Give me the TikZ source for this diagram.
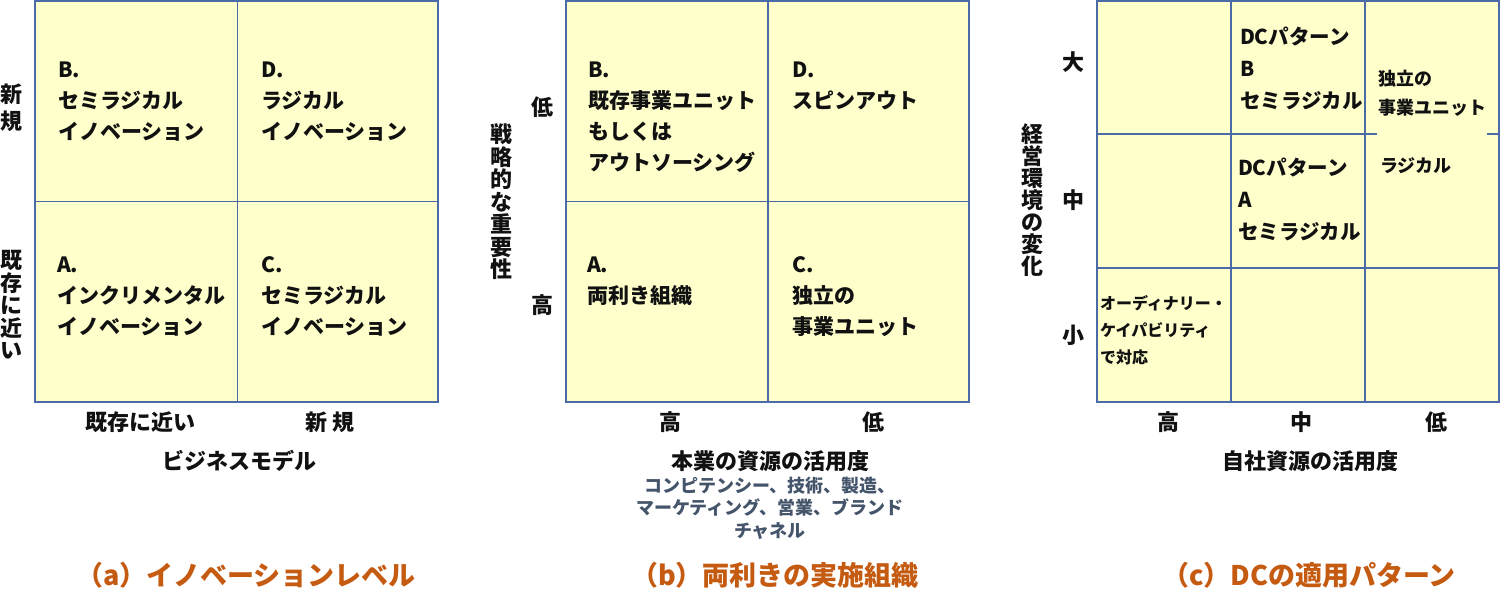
\documentclass[tikz,border=0pt]{standalone}
\usepackage{fontspec}
\setmainfont{Noto Sans CJK JP}
\definecolor{cellfill}{HTML}{FFFFCC}
\definecolor{gridline}{HTML}{4A6BA8}
\definecolor{subgray}{HTML}{44546A}
\definecolor{capor}{HTML}{C55A11}
\definecolor{txt}{HTML}{111111}
\begin{document}
\begin{tikzpicture}[x=1pt,y=-1pt,
  every node/.style={inner sep=0pt, outer sep=0pt, text=txt},
  grid/.style={draw=gridline, line width=1.6pt},
  celltxt/.style={anchor=base west, align=left, font=\fontsize{21}{31}\selectfont\bfseries},
  celltxtc/.style={anchor=base west, align=left, font=\fontsize{20.5}{32}\selectfont\bfseries},
  smalltxt/.style={anchor=base west, align=left, font=\fontsize{18}{29}\selectfont\bfseries},
  tinytxt/.style={anchor=base west, align=left, font=\fontsize{16}{27}\selectfont\bfseries},
  tick/.style={anchor=center, align=center, font=\fontsize{22}{26}\selectfont\bfseries},
  vlabel/.style={anchor=center, align=center, font=\fontsize{22}{22.5}\selectfont\bfseries},
  axtitle/.style={anchor=center, font=\fontsize{22}{26}\selectfont\bfseries},
  subtxt/.style={anchor=base, align=center, text=subgray, font=\fontsize{18}{22.5}\selectfont\bfseries},
  caption/.style={anchor=center, text=capor, font=\fontsize{27}{32}\selectfont\bfseries}]
\useasboundingbox (0,0) rectangle (1500,590);

% ---------- (a) ----------
\fill[cellfill] (35,1) rectangle (438,402);
\draw[grid] (35,1) rectangle (438,402);
\draw[grid] (237.5,1) -- (237.5,402);
\draw[grid] (35,201.5) -- (438,201.5);
% base anchor = baseline of the last line
\node[celltxt] (aB) at (58,139.5) {B.\\セミラジカル\\イノベーション};
\node[celltxt] (aD) at (261,139.5) {D.\\ラジカル\\イノベーション};
\node[celltxt] (aA) at (57,334.5) {A.\\インクリメンタル\\イノベーション};
\node[celltxt] (aC) at (261,334.5) {C.\\セミラジカル\\イノベーション};
\node[tick, font=\fontsize{22}{27}\selectfont\bfseries] (aYnew) at (12,108) {新\\規};
\node[vlabel] (aYold) at (12,305) {既\\存\\に\\近\\い};
\node[tick] (aXold) at (140,422) {既存に近い};
\node[tick] (aXnew) at (330,422) {新 規};
\node[axtitle] (aXt) at (239,461) {ビジネスモデル};
\node[caption] (aCap) at (246,575) {（a）イノベーションレベル};

% ---------- (b) ----------
\fill[cellfill] (566,1) rectangle (969,402);
\draw[grid] (566,1) rectangle (969,402);
\draw[grid] (768,1) -- (768,402);
\draw[grid] (566,201.5) -- (969,201.5);
\node[celltxt] (bB) at (588,170.5) {B.\\既存事業ユニット\\もしくは\\アウトソーシング};
\node[celltxt] (bD) at (792,108.5) {D.\\スピンアウト};
\node[celltxt] (bA) at (587,303.5) {A.\\両利き組織};
\node[celltxt] (bC) at (792,334.5) {C.\\独立の\\事業ユニット};
\node[tick] (bYlow) at (542,107) {低};
\node[tick] (bYhigh) at (542,305) {高};
\node[vlabel] (bYt) at (501,202) {戦\\略\\的\\な\\重\\要\\性};
\node[tick] (bXhigh) at (670,422) {高};
\node[tick] (bXlow) at (873,422) {低};
\node[axtitle] (bXt) at (770,461) {本業の資源の活用度};
\node[subtxt] (bSub) at (770,537) {コンピテンシー、技術、製造、\\マーケティング、営業、ブランド\\チャネル};
\node[caption] (bCap) at (775,575) {（b）両利きの実施組織};

% ---------- (c) ----------
\fill[cellfill] (1097,1) rectangle (1499,402);
\draw[grid] (1097,1) rectangle (1499,402);
\draw[grid] (1231,1) -- (1231,402);
\draw[grid] (1365,1) -- (1365,402);
\draw[grid] (1097,134) -- (1365,134);
\draw[grid] (1365,134) -- (1377,134);
\draw[grid] (1487,134) -- (1499,134);
\draw[grid] (1097,268) -- (1499,268);
\node[celltxtc] (cB) at (1240,108.5) {DCパターン\\B\\セミラジカル};
\node[celltxtc] (cA) at (1238,239.5) {DCパターン\\A\\セミラジカル};
\node[smalltxt] (cInd) at (1378,114) {独立の\\事業ユニット};
\node[smalltxt] (cRad) at (1380,172) {ラジカル};
\node[tinytxt] (cOrd) at (1100,363) {オーディナリー・\\ケイパビリティ\\で対応};
\node[tick] (cYbig) at (1073,62) {大};
\node[tick] (cYmid) at (1073,200) {中};
\node[tick] (cYsmall) at (1073,335) {小};
\node[vlabel, font=\fontsize{22}{22}\selectfont\bfseries] (cYt) at (1032,200) {経\\営\\環\\境\\の\\変\\化};
\node[tick] (cXhigh) at (1168,422) {高};
\node[tick] (cXmid) at (1301,422) {中};
\node[tick] (cXlow) at (1436,422) {低};
\node[axtitle] (cXt) at (1310,461) {自社資源の活用度};
\node[caption] (cCap) at (1309,575) {（c）DCの適用パターン};
\end{tikzpicture}
\end{document}
